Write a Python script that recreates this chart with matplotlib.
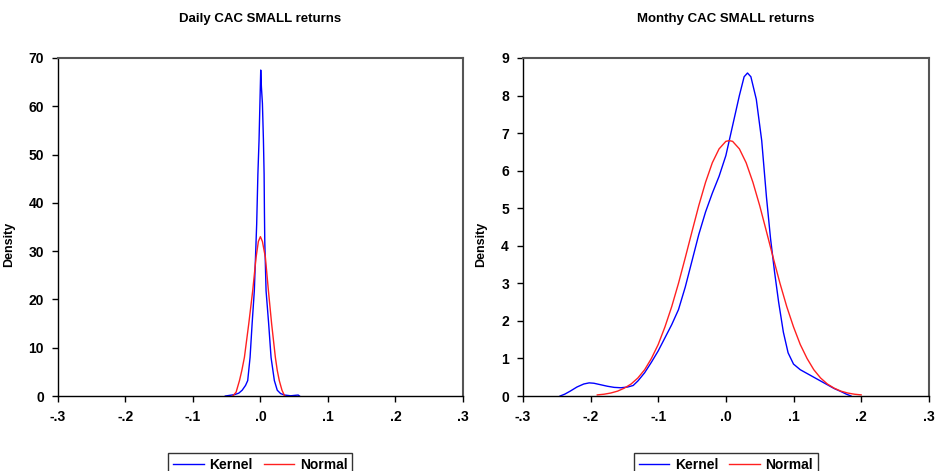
import matplotlib
matplotlib.use("Agg")
import matplotlib.pyplot as plt
from matplotlib.ticker import FuncFormatter

plt.rcParams['font.family'] = ['Liberation Sans', 'DejaVu Sans']
plt.rcParams['font.weight'] = 'bold'

# daily returns: kernel density and normal density
daily_kernel_x = [-0.052, -0.045, -0.038, -0.032, -0.027, -0.022, -0.0188, -0.0153,
                  -0.0123, -0.009, -0.0055, -0.0037, -0.002, -0.0007, 0.0005, 0.0015,
                  0.003, 0.0045, 0.0055, 0.006, 0.0065, 0.0084, 0.0123, 0.0158,
                  0.0207, 0.025, 0.030, 0.036, 0.045, 0.052, 0.056, 0.058]
daily_kernel_y = [0.0, 0.15, 0.3, 0.6, 1.2, 2.2, 3.2, 8.0,
                  14.9, 21.8, 35.6, 46.0, 53.0, 60.6, 67.5, 64.0,
                  60.6, 53.0, 46.0, 38.0, 32.0, 21.8, 14.9, 8.0,
                  3.2, 1.2, 0.5, 0.2, 0.05, 0.15, 0.2, 0.0]
daily_normal_x = [-0.041, -0.036, -0.031, -0.0275, -0.0237, -0.0173, -0.0114, -0.0064,
                  -0.003, 0.0, 0.003, 0.0074, 0.0119, 0.0167, 0.0222, 0.025,
                  0.028, 0.032, 0.036]
daily_normal_y = [0.0, 0.8, 3.2, 5.3, 8.0, 14.9, 21.8, 28.7,
                  32.0, 33.0, 32.0, 28.7, 21.8, 14.9, 8.0, 5.3,
                  3.2, 1.2, 0.0]

# monthly returns
monthly_kernel_x = [-0.245, -0.238, -0.23, -0.22, -0.21, -0.202, -0.195, -0.185,
                    -0.175, -0.165, -0.155, -0.145, -0.137, -0.13, -0.12, -0.11,
                    -0.10, -0.09, -0.08, -0.07, -0.06, -0.05, -0.04, -0.03,
                    -0.02, -0.01, 0.0, 0.01, 0.02, 0.027, 0.032, 0.037,
                    0.045, 0.053, 0.060, 0.066, 0.072, 0.078, 0.085, 0.092,
                    0.100, 0.11, 0.12, 0.13, 0.14, 0.15, 0.16, 0.17,
                    0.178, 0.185]
monthly_kernel_y = [0.0, 0.05, 0.13, 0.24, 0.32, 0.35, 0.34, 0.30,
                    0.26, 0.23, 0.22, 0.24, 0.28, 0.40, 0.62, 0.90,
                    1.2, 1.55, 1.9, 2.3, 2.9, 3.6, 4.3, 4.9,
                    5.4, 5.85, 6.4, 7.2, 8.0, 8.5, 8.6, 8.5,
                    7.9, 6.8, 5.3, 4.2, 3.3, 2.5, 1.7, 1.15,
                    0.85, 0.7, 0.6, 0.5, 0.4, 0.3, 0.2, 0.12,
                    0.05, 0.0]
monthly_normal_x = [-0.19, -0.18, -0.17, -0.16, -0.15, -0.14, -0.13, -0.12,
                    -0.11, -0.10, -0.09, -0.08, -0.07, -0.06, -0.05, -0.04,
                    -0.03, -0.02, -0.01, 0.0, 0.005, 0.01, 0.02, 0.03,
                    0.04, 0.05, 0.06, 0.07, 0.08, 0.09, 0.10, 0.11,
                    0.12, 0.13, 0.14, 0.15, 0.16, 0.17, 0.18, 0.19, 0.20]
monthly_normal_y = [0.03, 0.048, 0.08, 0.13, 0.21, 0.32, 0.48, 0.70,
                    1.0, 1.37, 1.84, 2.38, 3.0, 3.68, 4.38, 5.07,
                    5.69, 6.21, 6.58, 6.78, 6.8, 6.78, 6.58, 6.21,
                    5.69, 5.07, 4.38, 3.68, 3.0, 2.38, 1.84, 1.37,
                    1.0, 0.70, 0.48, 0.32, 0.21, 0.13, 0.08, 0.048, 0.03]

x_ticks = [-0.3, -0.2, -0.1, 0.0, 0.1, 0.2, 0.3]


def fmt_x(v, pos):
    s = '%.1f' % v
    s = s.replace('0.', '.')
    if s == '-.0':
        s = '.0'
    return s


fig = plt.figure(figsize=(9.37, 4.71), dpi=100)
ax1 = fig.add_axes([0.0619, 0.1592, 0.432, 0.7177])
ax2 = fig.add_axes([0.558, 0.1592, 0.4333, 0.7177])

panels = [
    (ax1, daily_kernel_x, daily_kernel_y, daily_normal_x, daily_normal_y,
     'Daily CAC SMALL returns', 70, 10, -0.106),
    (ax2, monthly_kernel_x, monthly_kernel_y, monthly_normal_x, monthly_normal_y,
     'Monthy CAC SMALL returns', 9, 1, -0.089),
]

for ax, kx, ky, nx, ny, title, ymax, ystep, ylab_x in panels:
    ax.plot(kx, ky, color='#0000ff', lw=1.0, label='Kernel')
    ax.plot(nx, ny, color='#ff2020', lw=1.0, label='Normal')
    ax.set_xlim(-0.3, 0.3)
    ax.set_ylim(0, ymax)
    ax.set_xticks(x_ticks)
    ax.set_yticks(range(0, ymax + 1, ystep))
    ax.xaxis.set_major_formatter(FuncFormatter(fmt_x))
    ax.tick_params(direction='out', length=4, width=1, labelsize=10, pad=6)
    for lab in ax.get_xticklabels() + ax.get_yticklabels():
        lab.set_fontweight('bold')
    for sp in ['left', 'bottom']:
        ax.spines[sp].set_color('black')
        ax.spines[sp].set_linewidth(1.0)
    for sp in ['top', 'right']:
        ax.spines[sp].set_color('#555555')
        ax.spines[sp].set_linewidth(1.5)
    ax.set_title(title, fontsize=9.5, fontweight='bold', pad=26)
    ax.set_ylabel('Density', fontsize=9, fontweight='bold')
    ax.yaxis.set_label_coords(ylab_x, 0.45)
    leg = ax.legend(loc='upper center', bbox_to_anchor=(0.5, -0.148), ncol=2,
                    frameon=True, fancybox=False, fontsize=10, handlelength=2.2,
                    columnspacing=0.8, handletextpad=0.4, borderpad=0.35)
    leg.get_frame().set_edgecolor('black')
    leg.get_frame().set_linewidth(1.0)

fig.savefig('out.png', dpi=100)
